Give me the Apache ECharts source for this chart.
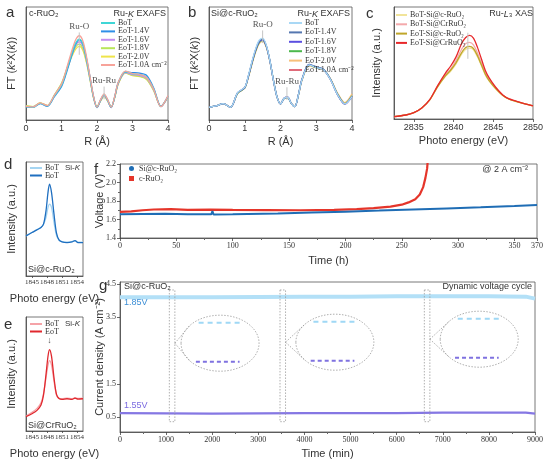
<!DOCTYPE html>
<html>
<head>
<meta charset="utf-8">
<script src="https://cdn.jsdelivr.net/npm/echarts@6/dist/echarts.min.js"></script>
<style>
  html, body { margin: 0; padding: 0; background: #fff; }
  #chart { width: 546px; height: 465px; }
</style>
</head>
<body>
<div id="chart"></div>
<script>
const SANS = 'Liberation Sans';
const SERIF = 'Liberation Serif';

// ---- a / b : Ru-K EXAFS, R (Å)
const rGrid = [0, 0.2, 0.4, 0.6, 0.8, 1.0, 1.1, 1.2, 1.3, 1.4, 1.5, 1.6, 1.7, 1.8, 1.9, 2.0, 2.1, 2.2, 2.3, 2.4, 2.5, 2.6, 2.8, 3.0, 3.2, 3.4, 3.6, 3.8, 4.0];
const exafsNames = ['BoT', 'EoT-1.4V', 'EoT-1.6V', 'EoT-1.8V', 'EoT-2.0V', 'EoT-1.0A cm⁻²'];

const aBoT   = [0.40, 0.38, 0.50, 0.42, 0.72, 1.03, 1.33, 1.68, 2.02, 2.30, 2.42, 2.28, 1.85, 1.28, 0.70, 0.38, 0.60, 0.76, 0.60, 0.38, 0.70, 1.12, 1.45, 1.38, 1.36, 1.28, 0.92, 0.40, 0.72];
const a14V   = [0.39, 0.38, 0.49, 0.41, 0.70, 1.00, 1.28, 1.62, 1.97, 2.27, 2.40, 2.27, 1.86, 1.30, 0.71, 0.37, 0.59, 0.75, 0.59, 0.37, 0.69, 1.12, 1.44, 1.42, 1.40, 1.33, 0.95, 0.41, 0.71];
const a16V   = [0.41, 0.39, 0.50, 0.42, 0.73, 1.06, 1.34, 1.67, 1.98, 2.24, 2.34, 2.21, 1.80, 1.25, 0.69, 0.38, 0.58, 0.73, 0.58, 0.38, 0.69, 1.10, 1.42, 1.36, 1.33, 1.25, 0.90, 0.40, 0.70];
const a18V   = [0.42, 0.40, 0.51, 0.43, 0.75, 1.10, 1.38, 1.69, 1.97, 2.19, 2.27, 2.15, 1.76, 1.23, 0.68, 0.39, 0.57, 0.72, 0.57, 0.39, 0.68, 1.09, 1.41, 1.34, 1.31, 1.22, 0.88, 0.41, 0.69];
const a20V   = [0.42, 0.40, 0.51, 0.43, 0.74, 1.08, 1.35, 1.65, 1.92, 2.12, 2.20, 2.09, 1.73, 1.22, 0.68, 0.39, 0.57, 0.71, 0.57, 0.39, 0.67, 1.08, 1.40, 1.33, 1.30, 1.21, 0.87, 0.41, 0.68];
const a10A   = [0.41, 0.39, 0.51, 0.43, 0.74, 1.07, 1.38, 1.75, 2.10, 2.40, 2.52, 2.37, 1.92, 1.32, 0.72, 0.38, 0.61, 0.78, 0.61, 0.38, 0.71, 1.13, 1.46, 1.39, 1.36, 1.27, 0.91, 0.40, 0.73];

const bBoT   = [0.38, 0.42, 0.49, 0.38, 0.82, 0.98, 1.33, 1.75, 2.12, 2.38, 2.45, 2.25, 1.80, 1.20, 0.70, 0.48, 0.65, 0.68, 0.50, 0.40, 0.75, 1.20, 1.65, 1.57, 1.50, 1.20, 0.75, 0.48, 0.70];
const b14V   = [0.38, 0.42, 0.49, 0.38, 0.81, 0.97, 1.31, 1.72, 2.09, 2.35, 2.42, 2.23, 1.79, 1.20, 0.70, 0.48, 0.65, 0.68, 0.50, 0.40, 0.75, 1.21, 1.66, 1.59, 1.52, 1.21, 0.75, 0.48, 0.71];
const b16V   = [0.38, 0.42, 0.49, 0.38, 0.81, 0.97, 1.30, 1.71, 2.07, 2.33, 2.40, 2.22, 1.79, 1.20, 0.70, 0.48, 0.65, 0.68, 0.50, 0.40, 0.75, 1.21, 1.66, 1.58, 1.51, 1.21, 0.75, 0.48, 0.70];
const b18V   = [0.38, 0.42, 0.49, 0.38, 0.80, 0.96, 1.29, 1.69, 2.05, 2.31, 2.38, 2.21, 1.79, 1.21, 0.70, 0.48, 0.64, 0.67, 0.50, 0.40, 0.74, 1.20, 1.64, 1.57, 1.51, 1.22, 0.77, 0.49, 0.72];
const b20V   = [0.38, 0.42, 0.49, 0.38, 0.79, 0.95, 1.27, 1.66, 2.02, 2.28, 2.35, 2.18, 1.77, 1.20, 0.70, 0.48, 0.64, 0.67, 0.50, 0.40, 0.73, 1.18, 1.62, 1.56, 1.50, 1.23, 0.80, 0.52, 0.78];
const b10A   = [0.38, 0.42, 0.49, 0.38, 0.81, 0.97, 1.30, 1.70, 2.07, 2.33, 2.40, 2.22, 1.78, 1.19, 0.70, 0.48, 0.65, 0.68, 0.50, 0.40, 0.75, 1.20, 1.64, 1.57, 1.50, 1.20, 0.76, 0.48, 0.70];

// ---- c : Ru-L3 XAS
const cEnergy = [2832.5, 2834, 2835, 2836, 2837, 2838, 2839, 2839.6, 2840.3, 2841, 2841.5, 2842, 2842.5, 2843, 2843.5, 2844, 2844.5, 2845.3, 2846.2, 2847, 2847.8, 2849, 2850];
const cNames = ['BoT-Si@c-RuO₂', 'BoT-Si@CrRuO₂', 'EoT-Si@c-RuO₂', 'EoT-Si@CrRuO₂'];
const cBoTc  = [0.07, 0.12, 0.19, 0.33, 0.57, 0.96, 1.28, 1.42, 1.64, 1.93, 2.08, 2.12, 2.07, 1.86, 1.60, 1.32, 1.13, 0.90, 0.70, 0.59, 0.53, 0.45, 0.39];
const cBoTCr = [0.07, 0.12, 0.19, 0.33, 0.58, 0.99, 1.33, 1.48, 1.75, 2.08, 2.25, 2.29, 2.22, 1.98, 1.68, 1.38, 1.17, 0.93, 0.71, 0.60, 0.54, 0.45, 0.39];
const cEoTc  = [0.07, 0.12, 0.19, 0.33, 0.57, 0.97, 1.30, 1.45, 1.68, 1.98, 2.13, 2.17, 2.11, 1.90, 1.62, 1.34, 1.14, 0.91, 0.70, 0.59, 0.53, 0.45, 0.39];
const cEoTCr = [0.07, 0.12, 0.19, 0.33, 0.58, 1.00, 1.38, 1.57, 1.85, 2.25, 2.43, 2.50, 2.42, 2.15, 1.80, 1.45, 1.22, 0.95, 0.72, 0.60, 0.54, 0.45, 0.39];

// ---- d / e : Si-K XAS
const siEnergy = [1843.8, 1845, 1846, 1846.8, 1847.3, 1847.8, 1848.2, 1848.5, 1848.9, 1849.4, 1849.9, 1850.4, 1851, 1852, 1853, 1853.6, 1854.2, 1855.2];
const dBoT = [1.20, 1.31, 1.39, 1.46, 1.55, 1.75, 2.05, 2.15, 2.05, 1.60, 1.22, 1.07, 1.03, 1.01, 1.03, 1.06, 1.01, 1.01];
const dEoT = [1.20, 1.30, 1.38, 1.45, 1.55, 1.95, 2.50, 2.75, 2.50, 1.85, 1.28, 1.08, 1.02, 1.00, 1.02, 1.06, 1.00, 1.00];
const eBoT = [0.45, 0.56, 0.68, 0.85, 1.12, 1.60, 1.98, 2.12, 1.98, 1.50, 1.08, 0.98, 0.97, 0.99, 0.97, 1.00, 0.98, 0.99];
const eEoT = [0.43, 0.52, 0.62, 0.78, 1.08, 1.70, 2.25, 2.45, 2.25, 1.60, 1.10, 0.98, 0.95, 0.97, 0.95, 0.99, 0.96, 0.97];

// ---- f : stability at 2 A cm-2, [time (h), voltage (V)]
const fSiC = [[0, 1.656], [20, 1.660], [40, 1.662], [60, 1.657], [81, 1.656], [82, 1.690], [83, 1.654], [100, 1.657], [140, 1.665], [170, 1.675], [200, 1.685], [230, 1.696], [260, 1.708], [290, 1.720], [320, 1.732], [350, 1.745], [370, 1.756]];
const fCRuO2 = [[0, 1.682], [10, 1.688], [20, 1.700], [30, 1.708], [45, 1.712], [60, 1.705], [80, 1.706], [100, 1.704], [130, 1.702], [160, 1.700], [190, 1.703], [210, 1.712], [225, 1.722], [240, 1.740], [250, 1.760], [256, 1.785], [262, 1.820], [266, 1.870], [269, 1.950], [271, 2.050], [272.5, 2.150], [273.5, 2.300]];

// ---- g : dynamic voltage cycle, [time (min), current density (A cm-2)]
const gHigh = [[0, 4.10], [1000, 4.10], [2000, 4.10], [3000, 4.11], [4000, 4.12], [5000, 4.12], [6000, 4.13], [7000, 4.13], [8000, 4.13], [8800, 4.12], [9000, 4.06]];
const gLow  = [[0, 0.62], [1000, 0.61], [2000, 0.60], [3000, 0.61], [4000, 0.62], [5000, 0.62], [6000, 0.62], [7000, 0.63], [8000, 0.63], [8800, 0.63], [9000, 0.60]];
const gWindows = [[1070, 1190], [3470, 3590], [6600, 6720]];     // dotted boxes (min)
const gLenses  = [[2170, 2.72], [4660, 2.75], [7790, 2.84]];      // magnifier centres

function pairs(xs, ys) {
  return xs.map((x, i) => [x, ys[i]]);
}

function curve(name, gi, data, color, width, smooth) {
  return {
    name, type: 'line', xAxisIndex: gi, yAxisIndex: gi, data,
    smooth: smooth === undefined ? 0.3 : smooth, showSymbol: false, symbol: 'none',
    itemStyle: { color }, lineStyle: { color, width: width || 1.3 },
    silent: true, z: 3
  };
}

function peakMarks(gi, marks) {
  return {
    type: 'custom', xAxisIndex: gi, yAxisIndex: gi, silent: true, z: 6,
    data: marks.map(m => [m[0], m[1], m[2]]),
    renderItem(params, api) {
      const m = marks[params.dataIndex];
      const p0 = api.coord([m[0], m[1]]), p1 = api.coord([m[0], m[2]]);
      const kids = [{ type: 'line', shape: { x1: p0[0], y1: p0[1], x2: p1[0], y2: p1[1] }, style: { stroke: '#c4c4c4', lineWidth: 1 } }];
      if (m[3]) kids.push({ type: 'text', style: { text: m[3], x: p1[0], y: p1[1] - 1, align: 'center', verticalAlign: 'bottom', font: '9px "' + SERIF + '"', fill: '#555' } });
      return { type: 'group', children: kids };
    }
  };
}

const axisLine = { show: true, lineStyle: { color: '#444', width: 0.8 } };
const richName = {
  t: { fontFamily: SANS, fontSize: 11, color: '#333' },
  i: { fontFamily: SANS, fontSize: 11, color: '#333', fontStyle: 'italic' }
};
const plain = v => String(v);

function yBlank(gi, max, name, gap) {
  return {
    type: 'value', gridIndex: gi, min: 0, max,
    axisLine, axisTick: { show: false }, axisLabel: { show: false }, splitLine: { show: false },
    name, nameLocation: 'middle', nameRotate: 90, nameGap: gap, nameMoveOverlap: false,
    nameTextStyle: { fontFamily: SANS, fontSize: 11, color: '#333', rich: richName }
  };
}

function xAxisOf(gi, min, max, o) {
  return Object.assign({
    type: 'value', gridIndex: gi, min, max,
    axisLine, splitLine: { show: false },
    axisTick: { show: true, length: 3, lineStyle: { color: '#444', width: 0.8 } },
    nameLocation: 'middle', nameMoveOverlap: false,
    nameTextStyle: { fontFamily: SANS, fontSize: 11, color: '#333' }
  }, o);
}

const grids = [
  { left: 26, top: 7, width: 142, height: 113 },   // a
  { left: 209, top: 7, width: 143, height: 113 },  // b
  { left: 394, top: 7, width: 142, height: 112 },  // c
  { left: 26, top: 162, width: 57, height: 114 },  // d
  { left: 26, top: 317, width: 57, height: 114 },  // e
  { left: 120, top: 164, width: 417, height: 74 }, // f
  { left: 120, top: 282, width: 415, height: 150 } // g
].map(g => Object.assign({ show: true, borderColor: '#555', borderWidth: 0.8, containLabel: false }, g));

const serifLabel = { fontFamily: SERIF, fontSize: 8, color: '#333', formatter: plain, hideOverlap: false };
const siTicks = [1845, 1848, 1851, 1854];
const cTicks = [2835, 2840, 2845, 2850];

const xAxes = [
  xAxisOf(0, 0, 4, { interval: 1, axisLabel: { fontFamily: SANS, fontSize: 9, color: '#333', margin: 4 }, name: 'R (Å)', nameGap: 16 }),
  xAxisOf(1, 0, 4, { interval: 1, axisLabel: { fontFamily: SANS, fontSize: 9, color: '#333', margin: 4 }, name: 'R (Å)', nameGap: 16 }),
  xAxisOf(2, 2832.5, 2850, {
    axisLabel: { fontFamily: SANS, fontSize: 9, color: '#333', margin: 4, customValues: cTicks, formatter: plain, hideOverlap: false },
    axisTick: { show: true, length: 3, lineStyle: { color: '#444', width: 0.8 }, customValues: cTicks },
    name: 'Photo energy (eV)', nameGap: 16
  }),
  xAxisOf(3, 1843.8, 1855.2, {
    axisLabel: Object.assign({}, serifLabel, { margin: 3, fontSize: 7, customValues: siTicks }),
    axisTick: { show: true, length: 2, lineStyle: { color: '#444', width: 0.8 }, customValues: siTicks },
    name: 'Photo energy (eV)', nameGap: 17
  }),
  xAxisOf(4, 1843.8, 1855.2, {
    axisLabel: Object.assign({}, serifLabel, { margin: 3, fontSize: 7, customValues: siTicks }),
    axisTick: { show: true, length: 2, lineStyle: { color: '#444', width: 0.8 }, customValues: siTicks },
    name: 'Photo energy (eV)', nameGap: 17
  }),
  xAxisOf(5, 0, 370, {
    interval: 50, axisLabel: Object.assign({}, serifLabel, { margin: 4 }),
    minorTick: { show: true, splitNumber: 2, length: 2, lineStyle: { color: '#666' } },
    name: 'Time (h)', nameGap: 17
  }),
  xAxisOf(6, 0, 9000, {
    interval: 1000, axisLabel: Object.assign({}, serifLabel, { margin: 4 }),
    minorTick: { show: true, splitNumber: 2, length: 2, lineStyle: { color: '#666' } },
    name: 'Time (min)', nameGap: 16
  })
];

const gTicks = [0.5, 1.5, 3.5, 4.5];
const yAxes = [
  yBlank(0, 3.38, '{t|FT (}{i|k}{t|²X(}{i|k}{t|))}', 9),
  yBlank(1, 3.38, '{t|FT (}{i|k}{t|²X(}{i|k}{t|))}', 9),
  yBlank(2, 3.35, 'Intensity (a.u.)', 12),
  yBlank(3, 3.41, 'Intensity (a.u.)', 9),
  yBlank(4, 3.43, 'Intensity (a.u.)', 9),
  {
    type: 'value', gridIndex: 5, min: 1.4, max: 2.2, interval: 0.2,
    axisLine, splitLine: { show: false },
    axisTick: { show: true, length: 3, lineStyle: { color: '#444', width: 0.8 } },
    minorTick: { show: true, splitNumber: 2, length: 2, lineStyle: { color: '#666' } },
    axisLabel: Object.assign({}, serifLabel, { margin: 4, formatter: v => v.toFixed(1) }),
    name: 'Voltage (V)', nameLocation: 'middle', nameRotate: 90, nameGap: 15, nameMoveOverlap: false,
    nameTextStyle: { fontFamily: SANS, fontSize: 11, color: '#333' }
  },
  {
    type: 'value', gridIndex: 6, min: 0.05, max: 4.56,
    axisLine, splitLine: { show: false },
    axisTick: { show: true, length: 3, lineStyle: { color: '#444', width: 0.8 }, customValues: gTicks },
    axisLabel: Object.assign({}, serifLabel, { margin: 4, customValues: gTicks, formatter: v => v.toFixed(1) }),
    name: 'Current density (A cm⁻²)', nameLocation: 'middle', nameRotate: 90, nameGap: 15, nameMoveOverlap: false,
    nameTextStyle: { fontFamily: SANS, fontSize: 11, color: '#333' }
  }
];

const aColors = ['#3fd6d6', '#2f8fe8', '#c48ef0', '#b8e65a', '#efe44a', '#f7a39a'];
const bColors = ['#a9d8f5', '#5577b0', '#5b4fe0', '#4cb84c', '#f7c07a', '#e06b7a'];
const cColors = ['#f1e49a', '#f4a9ab', '#c0a62a', '#e8282a'];

const aSets = [aBoT, a14V, a16V, a18V, a20V, a10A];
const bSets = [bBoT, b14V, b16V, b18V, b20V, b10A];
const cSets = [cBoTc, cBoTCr, cEoTc, cEoTCr];

const series = [];
// a: draw yellow/green first, salmon on top
[4, 3, 2, 1, 0, 5].forEach(i => series.push(curve('a:' + exafsNames[i], 0, pairs(rGrid, aSets[i]), aColors[i], 1.3)));
[5, 4, 3, 2, 1, 0].forEach(i => series.push(curve('b:' + exafsNames[i], 1, pairs(rGrid, bSets[i]), bColors[i], 1.3)));
[0, 1, 2, 3].forEach(i => series.push(curve('c:' + cNames[i], 2, pairs(cEnergy, cSets[i]), cColors[i], 1.3)));
series.push(curve('d:BoT', 3, pairs(siEnergy, dBoT), '#a5d5f2', 1.3));
series.push(curve('d:EoT', 3, pairs(siEnergy, dEoT), '#1f6fc0', 1.3));
series.push(curve('e:BoT', 4, pairs(siEnergy, eBoT), '#f5a3a8', 1.3));
series.push(curve('e:EoT', 4, pairs(siEnergy, eEoT), '#e0282e', 1.3));
series.push(curve('f:c-RuO₂', 5, fCRuO2, '#e5352a', 2.2, false));
series.push(curve('f:Si@c-RuO₂', 5, fSiC, '#1f6db5', 2, false));
series.push(curve('g:high', 6, gHigh, '#b3e0f7', 4, false));
series.push(curve('g:low', 6, gLow, '#8577e3', 2.2, false));

series.push(peakMarks(0, [[1.5, 1.95, 2.62, 'Ru-O'], [2.2, 0.62, 1.0, 'Ru-Ru']]));
series.push(peakMarks(1, [[1.5, 2.3, 2.68, 'Ru-O'], [2.18, 0.6, 0.98, 'Ru-Ru']]));
series.push(peakMarks(2, [[2841.8, 1.8, 2.58, '']]));
series.push(peakMarks(3, [[1848.5, 2.85, 2.85, '↓']]));
series.push(peakMarks(4, [[1848.5, 2.55, 2.55, '↓']]));

// g: dotted windows and magnifier ellipses
series.push({
  type: 'custom', xAxisIndex: 6, yAxisIndex: 6, silent: true, z: 6,
  data: gWindows.map((w, i) => [w[0], w[1], gLenses[i][0], gLenses[i][1]]),
  renderItem(params, api) {
    const dot = { fill: 'none', stroke: '#9a9a9a', lineWidth: 0.8, lineDash: [1.5, 1.5] };
    const p0 = api.coord([api.value(0), 4.32]);
    const p1 = api.coord([api.value(1), 0.36]);
    const c = api.coord([api.value(2), api.value(3)]);
    const rx = 39, ry = 28;
    const up = [c[0] + rx * Math.cos(2.45), c[1] - ry * Math.sin(2.45)];
    const dn = [c[0] + rx * Math.cos(2.45), c[1] + ry * Math.sin(2.45)];
    return {
      type: 'group', children: [
        { type: 'rect', shape: { x: p0[0], y: p0[1], width: p1[0] - p0[0], height: p1[1] - p0[1] }, style: dot },
        { type: 'ellipse', shape: { cx: c[0], cy: c[1], rx, ry }, style: dot },
        { type: 'line', shape: { x1: p1[0], y1: c[1], x2: up[0], y2: up[1] }, style: dot },
        { type: 'line', shape: { x1: p1[0], y1: c[1], x2: dn[0], y2: dn[1] }, style: dot },
        { type: 'line', shape: { x1: c[0] - 0.55 * rx, y1: c[1] - 0.73 * ry, x2: c[0] + 0.6 * rx, y2: c[1] - 0.73 * ry }, style: { stroke: '#9fd8f5', lineWidth: 2, lineDash: [5, 4] } },
        { type: 'line', shape: { x1: c[0] - 0.62 * rx, y1: c[1] + 0.66 * ry, x2: c[0] + 0.5 * rx, y2: c[1] + 0.66 * ry }, style: { stroke: '#7f72e0', lineWidth: 2, lineDash: [4, 3] } }
      ]
    };
  }
});

const strip = n => n.slice(2);
function lineLegend(prefix, names, left, top, w, gap) {
  return {
    data: names.map(n => prefix + n), left, top, orient: 'vertical', padding: 0,
    itemWidth: w, itemHeight: 2, itemGap: gap, icon: 'rect', selectedMode: false,
    formatter: strip,
    textStyle: { fontFamily: SERIF, fontSize: 8, color: '#333', lineHeight: 8, padding: [0, 0, 0, -2] }
  };
}

const legends = [
  lineLegend('a:', exafsNames, 101, 19, 14, 0.4),
  lineLegend('b:', exafsNames, 289, 19, 13, 1.4),
  lineLegend('c:', cNames, 396, 11, 11, 1.3),
  lineLegend('d:', ['BoT', 'EoT'], 30, 164, 12, -0.5),
  lineLegend('e:', ['BoT', 'EoT'], 30, 320, 12, -0.5),
  {
    data: [{ name: 'f:Si@c-RuO₂', icon: 'circle' }, { name: 'f:c-RuO₂', icon: 'rect' }],
    left: 129, top: 164, orient: 'vertical', padding: 0, itemWidth: 5, itemHeight: 5, itemGap: 1,
    selectedMode: false, formatter: strip,
    textStyle: { fontFamily: SERIF, fontSize: 8, color: '#333', lineHeight: 9 }
  }
];

function txt(x, y, text, o) {
  o = o || {};
  return {
    type: 'text', x, y, silent: true, z: 10,
    style: {
      text, fill: o.fill || '#333', align: o.align || 'left', verticalAlign: 'middle',
      font: (o.size || 9) + 'px "' + (o.family || SANS) + '"',
      rich: {
        i: { fontFamily: SANS, fontSize: o.size || 9, fontStyle: 'italic', fill: o.fill || '#333' }
      }
    }
  };
}

const graphics = [
  txt(6, 13, 'a', { size: 15 }), txt(188, 13, 'b', { size: 15 }), txt(366, 14, 'c', { size: 15 }),
  txt(4, 165, 'd', { size: 15 }), txt(4, 325, 'e', { size: 15 }),
  txt(94, 170, 'f', { size: 15 }), txt(99, 286, 'g', { size: 15 }),
  txt(29, 14, 'c-RuO₂'), txt(166, 14, 'Ru-{i|K} EXAFS', { align: 'right' }),
  txt(211, 14, 'Si@c-RuO₂'), txt(350, 14, 'Ru-{i|K} EXAFS', { align: 'right' }),
  txt(533, 14, 'Ru-{i|L}₃ XAS', { align: 'right' }),
  txt(65, 168, 'Si-{i|K}', { size: 8 }), txt(28, 270, 'Si@c-RuO₂'),
  txt(65, 324, 'Si-{i|K}', { size: 8 }), txt(28, 426, 'Si@CrRuO₂'),
  txt(528, 170, '@ 2 A cm⁻²', { align: 'right' }),
  txt(124, 287, 'Si@c-RuO₂'), txt(532, 287, 'Dynamic voltage cycle', { align: 'right' }),
  txt(124, 303, '1.85V', { fill: '#3d8fd6' }), txt(124, 406, '1.55V', { fill: '#7a6ae0' })
];

const chart = echarts.init(document.getElementById('chart'));
chart.setOption({
  animation: false,
  grid: grids,
  xAxis: xAxes,
  yAxis: yAxes,
  legend: legends,
  series,
  graphic: graphics
});
</script>
</body>
</html>
